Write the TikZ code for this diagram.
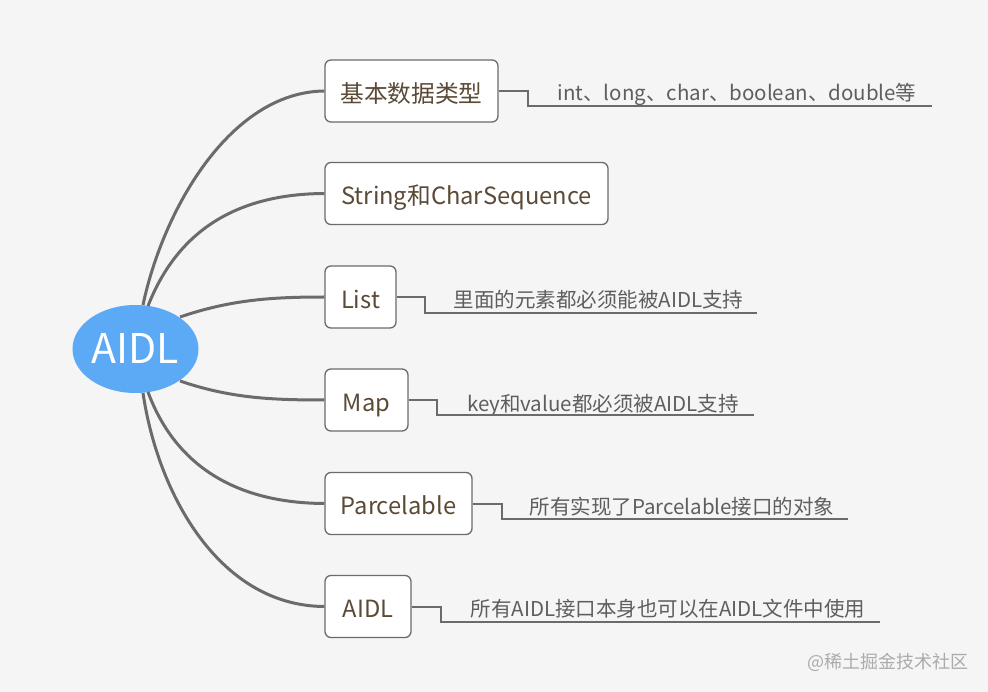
\documentclass[tikz,border=0pt]{standalone}
\usepackage{fontspec}
\usetikzlibrary{shapes.geometric}
\setmainfont{Noto Sans CJK SC}
\definecolor{bgcol}{HTML}{F5F5F5}
\definecolor{rootcol}{HTML}{5CA9F5}
\definecolor{linecol}{HTML}{6B6B6B}
\definecolor{boxtext}{HTML}{5A4A36}
\definecolor{notetext}{HTML}{5E5E5E}
\definecolor{marktext}{HTML}{ABABAB}
\begin{document}
\begin{tikzpicture}[x=1pt,y=-1pt,
  rootnode/.style={ellipse, fill=rootcol, minimum width=126pt, minimum height=88pt, inner sep=0pt, text height=29pt, text depth=0pt, text=white, font=\fontsize{41}{41}\selectfont},
  box/.style={draw=linecol, line width=1.3pt, rounded corners=6pt, fill=white, minimum height=62pt, inner sep=0pt, text height=22.5pt, text depth=0pt, text=boxtext, font=\fontsize{23.7}{23.7}\selectfont},
  branch/.style={draw=linecol, line width=3pt},
  elbow/.style={draw=linecol, line width=2pt},
  note/.style={inner sep=0pt, text=notetext, font=\fontsize{20.5}{20.5}\selectfont},
  wmark/.style={inner sep=0pt, text=marktext, font=\fontsize{18}{18}\selectfont}]
\fill[bgcol] (0,0) rectangle (988,692);
\useasboundingbox (0,0) rectangle (988,692);

\node[rootnode] (root) at (135.5,349) {AIDL};

\node[box, minimum width=173pt] (b1) at (411.5,91) {基本数据类型};
\node[box, minimum width=283pt] (b2) at (466.5,193.5) {String和CharSequence};
\node[box, minimum width=71pt] (b3) at (360.5,297) {List};
\node[box, minimum width=83pt] (b4) at (366.5,400) {Map};
\node[box, minimum width=147pt] (b5) at (398.5,503.5) {Parcelable};
\node[box, minimum width=86pt] (b6) at (368,606.5) {AIDL};

\coordinate (s1) at (143,305);
\coordinate (s2) at (148,306);
\coordinate (s3) at (180,317);
\coordinate (s4) at (180,381);
\coordinate (s5) at (148,392);
\coordinate (s6) at (143,393);

\draw[branch] (s1) .. controls (163,210) and (230,92) .. (b1.west);
\draw[branch] (s2) .. controls (177,232) and (235,194) .. (b2.west);
\draw[branch] (s3) .. controls (230,300) and (270,297) .. (b3.west);
\draw[branch] (s4) .. controls (230,398) and (270,400) .. (b4.west);
\draw[branch] (s5) .. controls (175,465) and (235,503) .. (b5.west);
\draw[branch] (s6) .. controls (158,495) and (220,606) .. (b6.west);

% annotations
\node[note, anchor=base] (n1) at (737,101) {int、long、char、boolean、double等};
\coordinate (e1) at (932,106);
\draw[elbow] (b1.east) -- (528,91) -- (528,106) -- (e1);

\node[note, anchor=base] (n3) at (598.5,308) {里面的元素都必须能被AIDL支持};
\coordinate (e3) at (757,313);
\draw[elbow] (b3.east) -- (425,297) -- (425,313) -- (e3);

\node[note, anchor=base] (n4) at (603,411) {key和value都必须被AIDL支持};
\coordinate (e4) at (754,415);
\draw[elbow] (b4.east) -- (437,400) -- (437,415) -- (e4);

\node[note, anchor=base] (n5) at (682,514) {所有实现了Parcelable接口的对象};
\coordinate (e5) at (848,519);
\draw[elbow] (b5.east) -- (502,503.5) -- (502,519) -- (e5);

\node[note, anchor=base] (n6) at (668,616) {所有AIDL接口本身也可以在AIDL文件中使用};
\coordinate (e6) at (880,622);
\draw[elbow] (b6.east) -- (441,606.5) -- (441,622) -- (e6);

\node[wmark, anchor=base] (wm) at (888,668) {@稀土掘金技术社区};
\end{tikzpicture}
\end{document}
